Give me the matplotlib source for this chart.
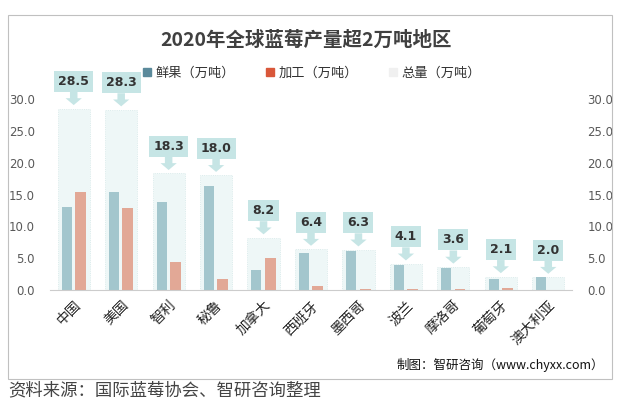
import numpy as np
import matplotlib.pyplot as plt
from matplotlib.patches import Rectangle, Patch

plt.rcParams['font.family'] = ['Noto Sans CJK SC', 'DejaVu Sans']

regions = ['中国', '美国', '智利', '秘鲁', '加拿大', '西班牙', '墨西哥', '波兰', '摩洛哥', '葡萄牙', '澳大利亚']
fresh = [13.1, 15.4, 13.9, 16.3, 3.1, 5.8, 6.2, 4.0, 3.5, 1.8, 2.0]
processed = [15.4, 12.9, 4.4, 1.7, 5.1, 0.6, 0.1, 0.1, 0.1, 0.3, 0.0]
total = [28.5, 28.3, 18.3, 18.0, 8.2, 6.4, 6.3, 4.1, 3.6, 2.1, 2.0]
yticks = [0, 5, 10, 15, 20, 25, 30]

c_fresh = '#a3c6cd'
c_proc = '#e2a896'
c_total = '#eef7f7'
c_label = '#c6e5e5'

fig = plt.figure(figsize=(6.27, 4.08), dpi=100)
fig.patch.set_facecolor('white')

# outer frame
fig.add_artist(Rectangle((8 / 627, 1 - 379 / 408), 604 / 627, 364 / 408,
                         transform=fig.transFigure, fill=False,
                         edgecolor='#c0c0c0', linewidth=0.8))

ax = fig.add_axes([50 / 627, 1 - 290 / 408, 522 / 627, 191 / 408])
x = np.arange(len(regions))

ax.bar(x, total, width=0.68, color=c_total, edgecolor='#d3e8e8',
       linewidth=0.6, linestyle=':', zorder=1)
ax.bar(x - 0.15, fresh, width=0.21, color=c_fresh, zorder=2)
ax.bar(x + 0.14, processed, width=0.23, color=c_proc, zorder=2)

for i, t in enumerate(total):
    ax.annotate(f'{t:.1f}', xy=(i, t), xytext=(0, 19.5), textcoords='offset points',
                ha='center', va='center', fontsize=9, fontweight='bold',
                color='#333333', family='DejaVu Sans', annotation_clip=False,
                bbox=dict(boxstyle='square,pad=0.32', fc=c_label, ec='none'),
                arrowprops=dict(arrowstyle='simple,head_length=0.55,head_width=1.3,tail_width=0.6',
                                fc=c_label, ec='none', shrinkA=0, shrinkB=2.5))

ax.set_xlim(-0.5, len(regions) - 0.5)
ax.set_ylim(0, 30)
ax.set_yticks(yticks)
ax.set_yticklabels([f'{v:.1f}' for v in yticks])
ax.set_xticks(x)
ax.set_xticklabels(regions, rotation=45, ha='right', va='top',
                   rotation_mode='anchor', fontsize=10, color='#222222')
ax.tick_params(axis='x', length=0, pad=6)
ax.tick_params(axis='y', length=0, labelsize=8.5, labelcolor='#595959', pad=11,
               labelright=True)
for lab in ax.get_yticklabels():
    lab.set_family('DejaVu Sans')
for s in ['top', 'left', 'right']:
    ax.spines[s].set_visible(False)
ax.spines['bottom'].set_color('#cccccc')

fig.text(306 / 627, 1 - 40 / 408, '2020年全球蓝莓产量超2万吨地区', ha='center', va='center',
         fontsize=14, fontweight='bold', color='#404040')

handles = [Patch(color='#5b8a9b'), Patch(color='#d9573a'), Patch(color='#f0f0f0')]
fig.legend(handles, ['鲜果（万吨）', '加工（万吨）', '总量（万吨）'],
           loc='center', bbox_to_anchor=(312 / 627, 1 - 73 / 408), ncol=3,
           frameon=False, fontsize=9.5, handlelength=0.6, handleheight=0.6,
           handletextpad=0.3, columnspacing=2.4, labelcolor='#333333')

fig.text(500 / 627, 1 - 365 / 408, '制图：智研咨询（www.chyxx.com）', ha='center',
         va='center', fontsize=9, color='#111111')
fig.text(8 / 627, 1 - 390 / 408, '资料来源：国际蓝莓协会、智研咨询整理', ha='left',
         va='center', fontsize=12.5, color='#444444')

fig.savefig('out.png', dpi=100)
